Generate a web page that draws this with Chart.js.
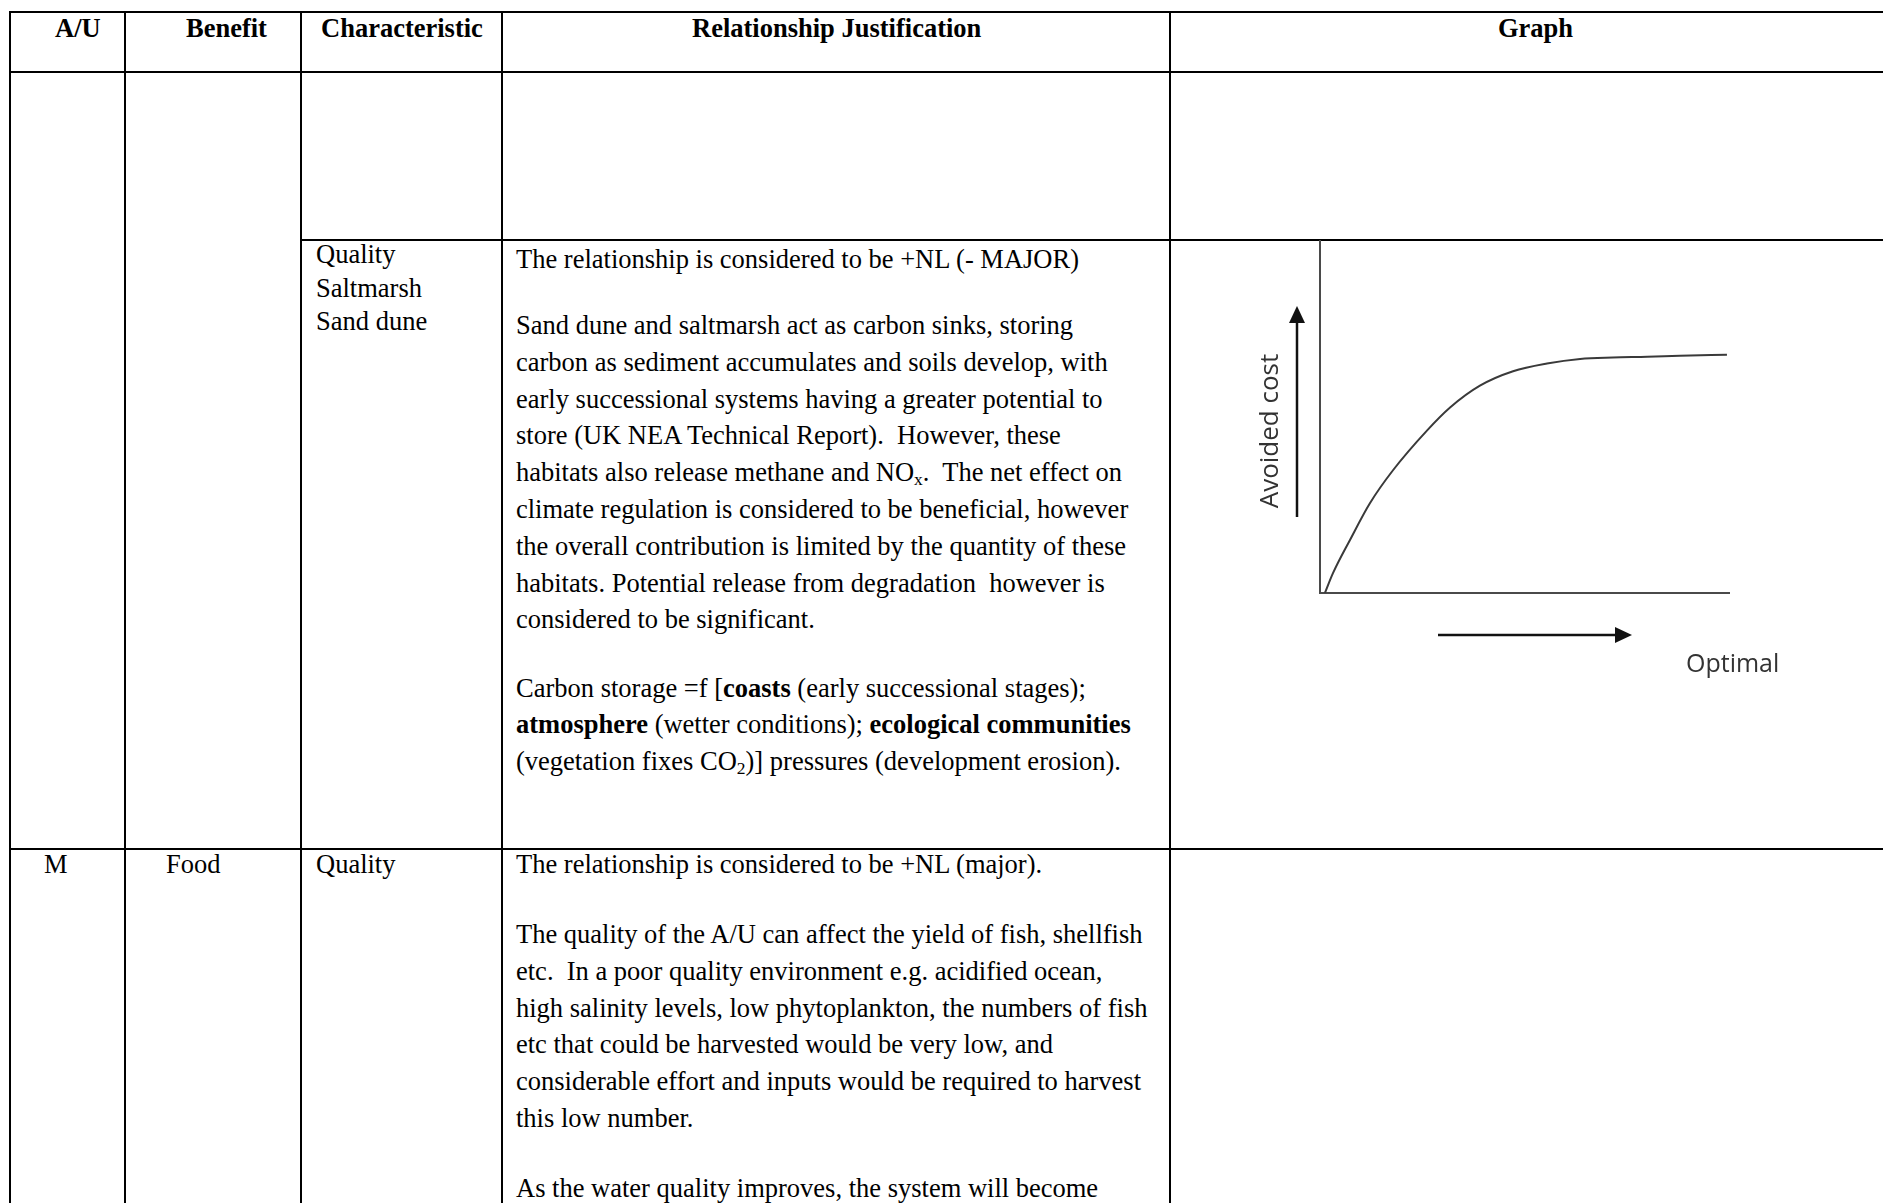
<!DOCTYPE html>
<html>
<head>
<meta charset="utf-8">
<script src="https://cdn.jsdelivr.net/npm/chart.js@4.4.1/dist/chart.umd.min.js"></script>
<style>
  html, body { margin: 0; padding: 0; background: #fff; }
  body { width: 1883px; height: 1203px; overflow: hidden; position: relative; }
  .h { position: absolute; background: #000; height: 2px; }
  .v { position: absolute; background: #000; width: 2px; }
  .t { position: absolute; font-family: "Liberation Serif", "Times New Roman", serif;
       font-size: 26.5px; color: #000; line-height: 36.8px; }
  .t div, .t span.w { white-space: pre; }
  .t > div { height: inherit; }
  .hd { font-weight: bold; line-height: 30px; white-space: pre; }
  .one { line-height: 30px; white-space: pre; }
  sub { font-size: 0.66em; line-height: 0; vertical-align: -0.22em; }
  #graph { position: absolute; left: 1172px; top: 240px; }
</style>
</head>
<body>

<!-- table rules -->
<div class="h" style="left:9px; top:11px; width:1890px"></div>
<div class="h" style="left:9px; top:71px; width:1890px"></div>
<div class="h" style="left:300px; top:239px; width:1599px"></div>
<div class="h" style="left:9px; top:848px; width:1890px"></div>
<div class="v" style="left:9px; top:11px; height:1192px"></div>
<div class="v" style="left:124px; top:11px; height:1192px"></div>
<div class="v" style="left:300px; top:11px; height:1192px"></div>
<div class="v" style="left:501px; top:11px; height:1192px"></div>
<div class="v" style="left:1169px; top:11px; height:1192px"></div>

<!-- header -->
<div class="t hd" style="left:55px; top:13px">A/U</div>
<div class="t hd" style="left:186px; top:13px">Benefit</div>
<div class="t hd" style="left:321px; top:13px">Characteristic</div>
<div class="t hd" style="left:692px; top:13px">Relationship Justification</div>
<div class="t hd" style="left:1498px; top:13px">Graph</div>

<!-- row 2 -->
<div class="t" style="left:316px; top:238px; line-height:33.7px">
  <div>Quality</div>
  <div>Saltmarsh</div>
  <div>Sand dune</div>
</div>
<div class="t" style="left:516px; top:241px">
  <div>The relationship is considered to be +NL (- MAJOR)</div>
</div>
<div class="t" style="left:516px; top:307px">
  <div>Sand dune and saltmarsh act as carbon sinks, storing</div>
  <div>carbon as sediment accumulates and soils develop, with</div>
  <div>early successional systems having a greater potential to</div>
  <div>store (UK NEA Technical Report).  However, these</div>
  <div>habitats also release methane and NO<sub>x</sub>.  The net effect on</div>
  <div>climate regulation is considered to be beneficial, however</div>
  <div>the overall contribution is limited by the quantity of these</div>
  <div>habitats. Potential release from degradation  however is</div>
  <div>considered to be significant.</div>
</div>
<div class="t" style="left:516px; top:670px; line-height:36.3px">
  <div>Carbon storage =f [<b>coasts</b> (early successional stages);</div>
  <div><b>atmosphere</b> (wetter conditions); <b>ecological communities</b></div>
  <div>(vegetation fixes CO<sub>2</sub>)] pressures (development erosion).</div>
</div>

<!-- row 3 -->
<div class="t one" style="left:44px; top:849px">M</div>
<div class="t one" style="left:166px; top:849px">Food</div>
<div class="t one" style="left:316px; top:849px">Quality</div>
<div class="t" style="left:516px; top:846px">
  <div>The relationship is considered to be +NL (major).</div>
</div>
<div class="t" style="left:516px; top:916px; line-height:36.75px">
  <div>The quality of the A/U can affect the yield of fish, shellfish</div>
  <div>etc.  In a poor quality environment e.g. acidified ocean,</div>
  <div>high salinity levels, low phytoplankton, the numbers of fish</div>
  <div>etc that could be harvested would be very low, and</div>
  <div>considerable effort and inputs would be required to harvest</div>
  <div>this low number.</div>
</div>
<div class="t" style="left:516px; top:1175px; line-height:26px">
  <div>As the water quality improves, the system will become</div>
</div>

<canvas id="graph" width="700" height="460"></canvas>

<script>
// curve (x: state of the habitat, y: avoided cost), both 0-100
const habitatState = [1.2, 3.2, 7.3, 12.2, 17.8, 26.2, 31.8, 39.1, 47.2, 55.5, 63.6, 71.6, 80.0, 88.0, 99.5];
const avoidedCost  = [0, 5.7, 15.0, 25.5, 34.8, 46.2, 52.7, 58.9, 63.0, 65.2, 66.5, 66.9, 67.1, 67.4, 67.7];
const yAxisLabel = 'Avoided cost';
const xAxisLabel = 'Optimal';

// arrows + labels beside the axes, like the hand drawn sketch
const sketchArrows = {
  id: 'sketchArrows',
  afterDraw(chart) {
    const ctx = chart.ctx;
    const a = chart.chartArea;
    ctx.save();
    ctx.strokeStyle = '#111';
    ctx.fillStyle = '#111';
    ctx.lineWidth = 2.5;

    // up arrow left of the y axis
    const ux = a.left - 23;
    ctx.beginPath();
    ctx.moveTo(ux, a.bottom - 76);
    ctx.lineTo(ux, a.bottom - 275);
    ctx.stroke();
    ctx.beginPath();
    ctx.moveTo(ux, a.bottom - 287);
    ctx.lineTo(ux - 8, a.bottom - 270);
    ctx.lineTo(ux + 8, a.bottom - 270);
    ctx.closePath();
    ctx.fill();

    // right arrow under the x axis
    const ry = a.bottom + 42;
    ctx.beginPath();
    ctx.moveTo(a.left + 118, ry);
    ctx.lineTo(a.left + 298, ry);
    ctx.stroke();
    ctx.beginPath();
    ctx.moveTo(a.left + 312, ry);
    ctx.lineTo(a.left + 295, ry - 8);
    ctx.lineTo(a.left + 295, ry + 8);
    ctx.closePath();
    ctx.fill();

    ctx.fillStyle = '#333';
    ctx.font = '25px "Open Sans"';
    ctx.textAlign = 'left';
    ctx.textBaseline = 'alphabetic';
    ctx.fillText(xAxisLabel, a.left + 366, a.bottom + 79);

    ctx.font = '26px "Open Sans"';
    ctx.translate(a.left - 49, a.bottom - 162);
    ctx.rotate(-Math.PI / 2);
    ctx.textAlign = 'center';
    ctx.textBaseline = 'middle';
    ctx.fillText(yAxisLabel, 0, 0);
    ctx.restore();
  }
};

const graphEl = document.getElementById('graph');
if (graphEl) {
  const points = habitatState.map((x, i) => ({ x: x, y: avoidedCost[i] }));
  new Chart(graphEl.getContext('2d'), {
    type: 'scatter',
    data: {
      datasets: [{
        data: points,
        showLine: true,
        borderColor: '#3a3a3a',
        borderWidth: 2,
        pointRadius: 0,
        cubicInterpolationMode: 'monotone',
        fill: false
      }]
    },
    options: {
      responsive: false,
      animation: false,
      events: [],
      layout: { padding: { left: 148, right: 143, top: 1, bottom: 107 } },
      plugins: { legend: { display: false }, tooltip: { enabled: false } },
      scales: {
        x: {
          type: 'linear', min: 0, max: 100,
          ticks: { display: false },
          grid: { display: false, drawTicks: false },
          border: { display: true, color: '#4a4a4a', width: 2 }
        },
        y: {
          min: 0, max: 100,
          ticks: { display: false },
          grid: { display: false, drawTicks: false },
          border: { display: true, color: '#4a4a4a', width: 2 }
        }
      }
    },
    plugins: [sketchArrows]
  });
}
</script>
</body>
</html>
